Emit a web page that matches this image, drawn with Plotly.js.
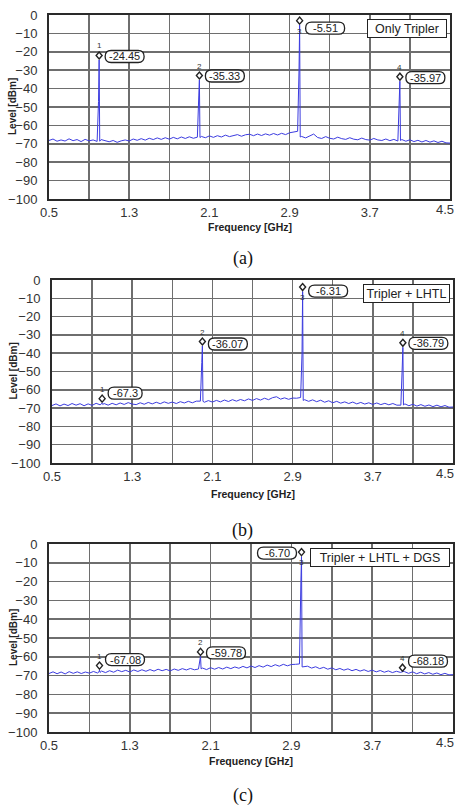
<!DOCTYPE html>
<html><head><meta charset="utf-8">
<script src="https://cdn.plot.ly/plotly-3.0.1.min.js"></script>
<style>html,body{margin:0;padding:0;background:#fff}#chart{width:457px;height:807px}</style>
</head><body><div id="chart"></div>
<script>
// ---------- DATA ----------
const freq = [
 0.50,0.54,0.58,0.62,0.66,0.70,0.74,0.78,0.82,0.86,0.90,0.94,0.98,
 0.994,1.000,1.006,
 1.02,1.06,1.10,1.14,1.18,1.22,1.26,1.30,1.34,1.38,1.42,1.46,1.50,1.54,1.58,1.62,1.66,1.70,1.74,1.78,1.82,1.86,1.90,1.94,1.98,
 1.994,2.000,2.006,
 2.02,2.06,2.10,2.14,2.18,2.22,2.26,2.30,2.34,2.38,2.42,2.46,2.50,2.54,2.58,2.62,2.66,2.70,2.74,2.78,2.82,2.86,2.90,2.94,2.98,
 2.994,3.000,3.006,
 3.02,3.06,3.10,3.14,3.18,3.22,3.26,3.30,3.34,3.38,3.42,3.46,3.50,3.54,3.58,3.62,3.66,3.70,3.74,3.78,3.82,3.86,3.90,3.94,3.98,
 3.994,4.000,4.006,
 4.02,4.06,4.10,4.14,4.18,4.22,4.26,4.30,4.34,4.38,4.42,4.46,4.50
];
const levelA = [
 -68.2,-67.4,-68.6,-67.9,-68.5,-67.3,-68.3,-67.7,-68.8,-67.6,-68.4,-67.9,-68.7,
 -47.0,-24.45,-68.6,
 -67.7,-68.5,-68.9,-68.2,-69.2,-68.4,-67.9,-68.5,-67.4,-68.1,-67.2,-68.0,-67.0,-67.7,-66.8,-67.6,-66.7,-67.5,-66.5,-67.3,-66.3,-67.1,-66.2,-67.0,-66.4,
 -44.0,-35.33,-66.6,
 -66.0,-66.7,-65.7,-66.5,-65.6,-66.3,-65.3,-66.1,-65.4,-65.0,-65.9,-65.1,-64.8,-65.6,-64.7,-65.5,-64.6,-65.3,-64.4,-65.2,-64.3,-65.0,-64.0,-63.6,-63.2,
 -30.0,-5.51,-66.3,
 -66.0,-66.8,-65.6,-64.7,-66.6,-67.1,-66.1,-67.0,-67.4,-66.4,-67.2,-67.6,-66.7,-67.5,-67.8,-66.9,-67.7,-68.0,-67.1,-67.9,-68.2,-67.4,-68.3,-67.6,-68.5,
 -46.0,-35.97,-68.2,
 -67.7,-68.6,-67.8,-68.8,-68.1,-69.0,-68.2,-69.1,-68.4,-69.3,-68.6,-69.5,-69.6
];
const levelB = [
 -68.6,-67.7,-68.8,-67.8,-68.6,-67.5,-68.4,-67.6,-68.7,-67.7,-68.5,-67.4,-68.2,
 -67.8,-67.3,-68.0,
 -67.5,-68.4,-67.4,-68.2,-67.2,-68.0,-67.0,-67.8,-68.1,-67.1,-67.9,-66.9,-67.7,-66.8,-67.6,-66.6,-67.4,-66.7,-67.5,-66.5,-67.2,-66.3,-67.1,-66.2,-66.2,
 -45.0,-36.07,-66.3,
 -66.8,-65.9,-66.7,-65.8,-66.6,-65.6,-66.4,-65.4,-66.2,-65.3,-66.0,-65.0,-65.8,-64.8,-65.6,-64.6,-65.4,-64.3,-63.8,-65.1,-64.4,-65.2,-64.5,-64.6,-64.2,
 -40.0,-6.31,-65.8,
 -65.4,-66.3,-65.5,-66.5,-65.7,-66.8,-66.0,-67.1,-66.3,-67.3,-66.6,-67.5,-66.7,-67.7,-66.9,-67.8,-67.1,-68.0,-67.2,-68.1,-67.4,-68.2,-67.5,-68.4,-68.4,
 -47.0,-36.79,-68.3,
 -67.7,-68.7,-67.9,-68.9,-68.1,-69.0,-68.3,-69.2,-68.4,-69.3,-68.6,-69.5,-69.4
];
const levelC = [
 -68.9,-68.0,-69.0,-68.1,-69.1,-67.9,-68.8,-68.0,-68.9,-68.1,-68.7,-67.8,-68.6,
 -68.1,-67.08,-68.3,
 -67.6,-68.4,-67.4,-68.2,-67.1,-67.9,-67.2,-68.1,-67.0,-67.8,-66.9,-67.7,-66.8,-67.6,-66.6,-67.4,-66.7,-67.5,-66.5,-67.2,-66.3,-67.0,-66.2,-66.9,-66.5,
 -62.0,-59.78,-66.4,
 -66.0,-66.8,-65.8,-66.6,-65.7,-66.5,-65.5,-66.3,-65.4,-66.1,-65.1,-65.9,-64.9,-65.7,-64.7,-65.5,-64.4,-65.2,-64.2,-65.0,-64.0,-64.8,-64.1,-64.0,-63.8,
 -20.0,-6.70,-65.4,
 -65.4,-65.0,-66.0,-65.3,-66.3,-65.6,-66.6,-65.9,-66.9,-66.2,-67.1,-66.4,-67.4,-66.7,-67.6,-66.9,-67.8,-67.1,-68.0,-67.3,-68.2,-67.5,-68.4,-67.7,-68.3,
 -68.0,-68.18,-67.8,
 -67.9,-68.8,-68.0,-69.0,-68.2,-69.1,-68.4,-69.3,-68.6,-69.5,-68.8,-69.6,-69.5
];
const markerFreq = [1.0, 2.0, 3.0, 4.0];
const markerA = [-24.45, -35.33, -5.51, -35.97];
const markerB = [-67.3, -36.07, -6.31, -36.79];
const markerC = [-67.08, -59.78, -6.70, -68.18];
const labelA = ['-24.45', '-35.33', '-5.51', '-35.97'];
const labelB = ['-67.3', '-36.07', '-6.31', '-36.79'];
const labelC = ['-67.08', '-59.78', '-6.70', '-68.18'];
const markerNums = ['1', '2', '3', '4'];
const panelNames = ['Only Tripler', 'Tripler + LHTL', 'Tripler + LHTL + DGS'];
const captions = ['(a)', '(b)', '(c)'];
const xTickVals = [0.5, 0.9, 1.3, 1.7, 2.1, 2.5, 2.9, 3.3, 3.7, 4.1, 4.5];
const xTickText = ['0.5', '', '1.3', '', '2.1', '', '2.9', '', '3.7', '', '4.5'];
const yTickVals = [0, -10, -20, -30, -40, -50, -60, -70, -80, -90, -100];
const xTitle = 'Frequency [GHz]';
const yTitle = 'Level [dBm]';

// ---------- STYLE / GEOMETRY (pixels) ----------
const W = 457, H = 807;
const panels = [
  {levels: levelA, marks: markerA, labels: labelA, l: 49, r: 450, t: 15, b: 199,
   labDy: [3.5, 4, -3, 3.5], labLeft: [false, false, false, false],
   legendW: 76, capY: 259, xtY: 227},
  {levels: levelB, marks: markerB, labels: labelB, l: 52, r: 453, t: 280, b: 463,
   labDy: [10, 2, 0.5, 4], labLeft: [false, false, false, false],
   legendW: 83, capY: 530, xtY: 494},
  {levels: levelC, marks: markerC, labels: labelC, l: 49, r: 453, t: 544, b: 732,
   labDy: [10.5, 3.5, 3.5, 11], labLeft: [false, false, true, false],
   legendW: 136, capY: 795, xtY: 761}
];
const lineColor = '#3c3ce0';
const font = 'Liberation Sans, Arial, sans-serif';
const tickFont = {size: 13, family: font, color: '#333'};

const data = [];
const layout = {
  width: W, height: H, margin: {l: 0, r: 0, t: 0, b: 0},
  paper_bgcolor: '#fff', plot_bgcolor: '#fff', showlegend: false,
  font: {family: font, color: '#222'},
  annotations: [], shapes: []
};

// the last x tick label sits flush with the right page edge, drawn separately
const nT = xTickVals.length;
const axisTickText = xTickText.slice(0, nT - 1).concat(['']);

panels.forEach((p, i) => {
  const sfx = i === 0 ? '' : String(i + 1);
  const xa = 'x' + sfx, ya = 'y' + sfx;
  data.push({x: freq, y: p.levels, xaxis: xa, yaxis: ya, type: 'scatter', mode: 'lines',
    line: {color: lineColor, width: 1}, hoverinfo: 'skip'});
  const common = {showline: true, mirror: true, linecolor: '#2a2a2a', linewidth: 2,
    showgrid: true, gridcolor: '#6e6e6e', gridwidth: 1.5, zeroline: false, ticks: '',
    tickfont: tickFont, fixedrange: true};
  layout['xaxis' + sfx] = Object.assign({}, common, {anchor: ya, range: [0.5, 4.5],
    domain: [p.l / W, p.r / W], tickmode: 'array', tickvals: xTickVals, ticktext: axisTickText,
    ticklabelstandoff: 0});
  layout['yaxis' + sfx] = Object.assign({}, common, {anchor: xa, range: [-100, 0],
    domain: [1 - p.b / H, 1 - p.t / H], tickmode: 'array', tickvals: yTickVals,
    ticklabelstandoff: 7});
  layout.annotations.push({xref: xa, yref: ya + ' domain', x: xTickVals[nT - 1], y: 0,
    xanchor: 'right', yanchor: 'top', xshift: (W - 1) - p.r, yshift: -1,
    text: xTickText[nT - 1], showarrow: false, font: tickFont});

  // axis titles and caption
  layout.annotations.push({xref: 'paper', yref: 'paper', x: 13 / W, y: 1 - ((p.t + p.b) / 2) / H,
    text: '<b>' + yTitle + '</b>', textangle: -90, showarrow: false,
    font: {size: 10, family: font, color: '#222'}, xanchor: 'center', yanchor: 'middle'});
  layout.annotations.push({xref: 'paper', yref: 'paper', x: ((p.l + p.r) / 2) / W, y: 1 - p.xtY / H,
    text: '<b>' + xTitle + '</b>', showarrow: false,
    font: {size: 10.5, family: font, color: '#222'}, xanchor: 'center', yanchor: 'middle'});
  layout.annotations.push({xref: 'paper', yref: 'paper', x: 243 / W, y: 1 - p.capY / H,
    text: captions[i], showarrow: false,
    font: {size: 18, family: 'Liberation Serif, Times New Roman, serif', color: '#111'},
    xanchor: 'center', yanchor: 'middle'});
  // panel name box
  layout.annotations.push({xref: xa + ' domain', yref: ya + ' domain', x: 1, y: 1,
    xanchor: 'right', yanchor: 'top', xshift: -3, yshift: -4,
    text: panelNames[i], showarrow: false, width: p.legendW, height: 15,
    bgcolor: '#fff', bordercolor: '#222', borderwidth: 1, borderpad: 1,
    font: {size: 12.5, family: font, color: '#222'}});

  // markers
  markerFreq.forEach((f, j) => {
    const v = p.marks[j];
    const lab = p.labels[j];
    layout.shapes.push({type: 'path', xref: xa, yref: ya, xsizemode: 'pixel', ysizemode: 'pixel',
      xanchor: f, yanchor: v, path: 'M0,1 L3,4.5 L0,8 L-3,4.5 Z',
      line: {color: '#222', width: 1.4}, fillcolor: '#fff', layer: 'above'});
    const numDy = j === 2 ? -6 : 14;
    layout.annotations.push({xref: xa, yref: ya, x: f, y: v, xanchor: 'center', yanchor: 'middle',
      yshift: numDy, text: markerNums[j], showarrow: false,
      font: {size: 8, family: font, color: '#333'}});
    const w = lab.split('.')[1].length === 1 ? 34 : 39;
    const h = 12, r = h / 2;
    const L = p.labLeft[j] ? -5 - w : 6;
    const cy = p.labDy[j];
    const R = L + w, T = cy + r, B = cy - r;
    const path = `M${L + r},${B} L${R - r},${B} Q${R},${B} ${R},${cy} Q${R},${T} ${R - r},${T} ` +
                 `L${L + r},${T} Q${L},${T} ${L},${cy} Q${L},${B} ${L + r},${B} Z`;
    layout.shapes.push({type: 'path', xref: xa, yref: ya, xsizemode: 'pixel', ysizemode: 'pixel',
      xanchor: f, yanchor: v, path: path, line: {color: '#222', width: 1.3},
      fillcolor: '#fff', layer: 'above'});
    layout.annotations.push({xref: xa, yref: ya, x: f, y: v, xanchor: 'center', yanchor: 'middle',
      xshift: L + w / 2, yshift: cy, text: lab, showarrow: false,
      font: {size: 11, family: font, color: '#222'}});
  });
});

Plotly.newPlot('chart', data, layout, {staticPlot: true, displayModeBar: false});
</script>
</body></html>
